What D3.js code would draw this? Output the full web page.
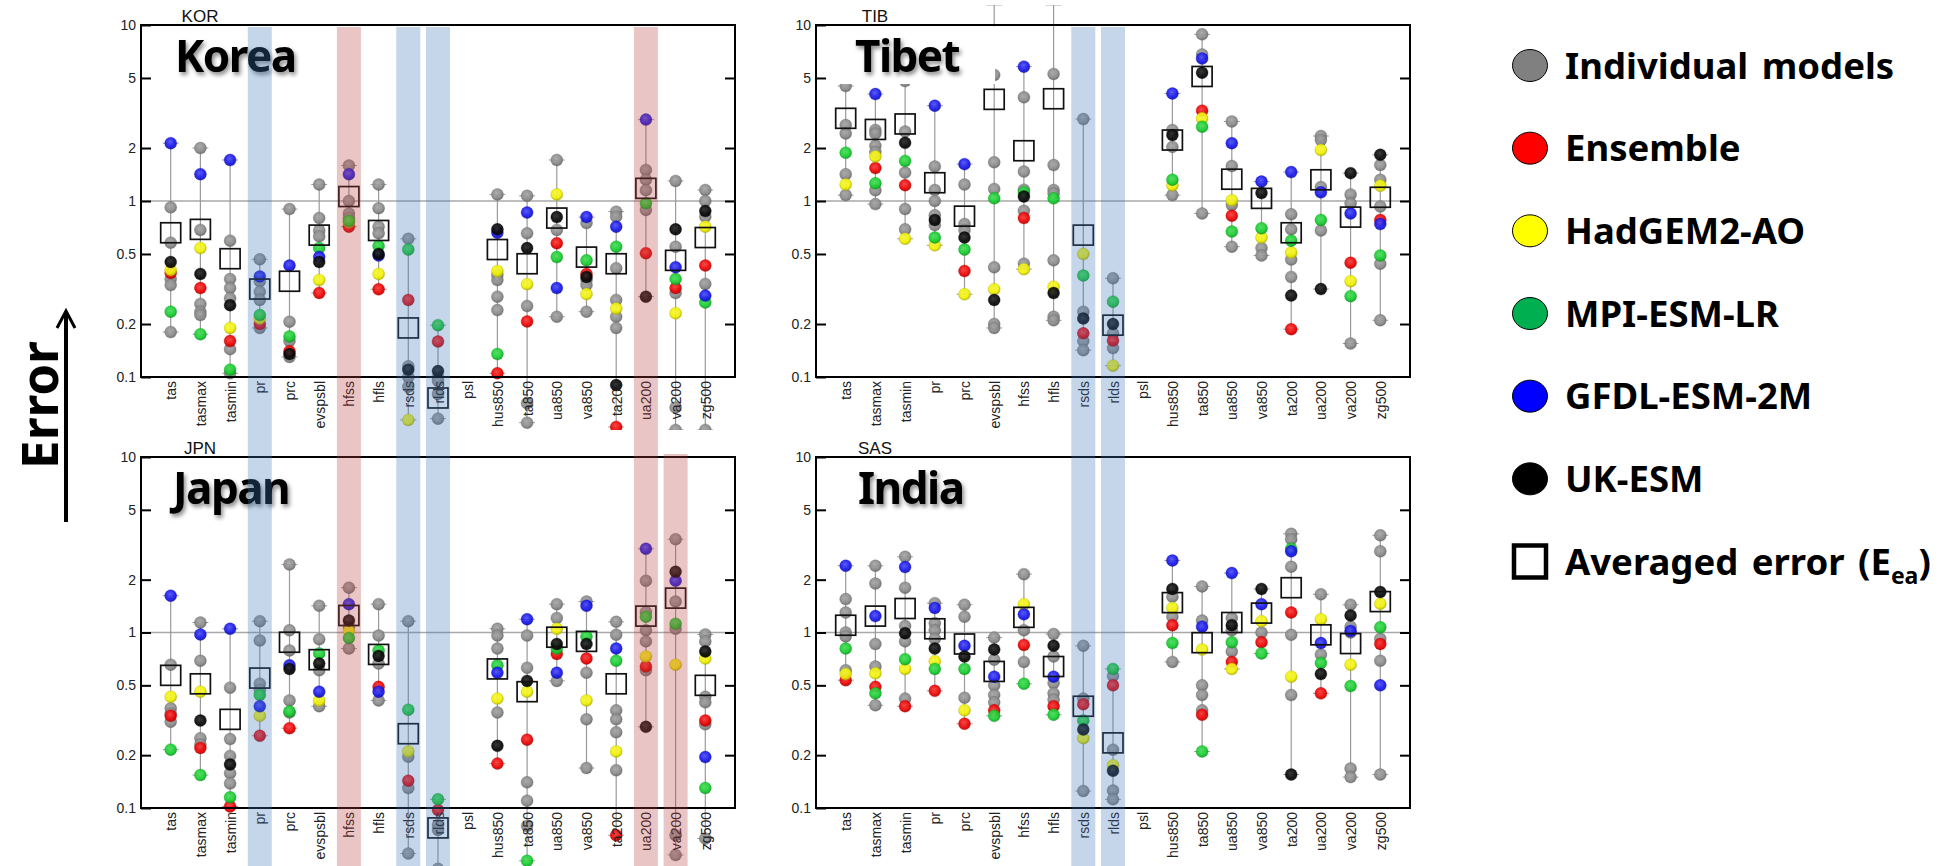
<!DOCTYPE html>
<html>
<head>
<meta charset="utf-8">
<script src="https://cdn.jsdelivr.net/npm/d3@7"></script>
<style>
  body { margin: 0; background: #fff; }
  svg { display: block; }
</style>
</head>
<body>
<svg id="chart" width="1950" height="866"></svg>
<script>
// variables on the x axis
const variables = ["tas", "tasmax", "tasmin", "pr", "prc", "evspsbl", "hfss", "hfls", "rsds", "rlds",
                   "psl", "hus850", "ta850", "ua850", "va850", "ta200", "ua200", "va200", "zg500"];

// ---- Korea (KOR) ----
const korIndividual = [
  [0.92, 0.58, 0.36, 0.333, 0.18], [2.0, 0.685, 0.26, 0.235, 0.225], [0.595, 0.36, 0.32, 0.28, 0.144, 0.105],
  [0.466, 0.35, 0.305, 0.274, 0.19], [0.90, 0.206, 0.16, 0.13], [1.24, 0.80, 0.68, 0.63],
  [1.59, 1.0, 0.85, 0.8], [1.24, 0.91, 0.715, 0.655], [0.61, 0.115, 0.10, 0.088],
  [0.1, 0.095, 0.08, 0.058], [], [1.09, 0.38, 0.356, 0.286, 0.24],
  [1.07, 0.655, 0.253, 0.071, 0.055], [1.71, 0.685, 0.22], [0.75, 0.356, 0.333, 0.235],
  [0.87, 0.815, 0.415, 0.274, 0.22, 0.19], [1.5, 1.32, 1.15, 0.89], [1.30, 0.55, 0.30, 0.067, 0.05],
  [1.155, 1.0, 0.815, 0.338, 0.05]
];
const korEnsemble = [0.39, 0.32, 0.16, 0.2, 0.14, 0.30, 0.715, 0.315, 0.274, 0.159, null, 0.105, 0.207, 0.575, 0.385, 0.052, 0.505, 0.32, 0.43];
const korHadgem   = [0.405, 0.54, 0.19, 0.215, null, 0.356, 0.76, 0.385, 0.057, null, null, 0.40, 0.337, 1.09, 0.296, 0.245, null, 0.23, 0.715];
const korMpi      = [0.235, 0.175, 0.11, 0.225, 0.17, 0.54, 0.77, 0.555, 0.53, 0.197, null, 0.135, null, 0.48, 0.46, 0.55, 0.97, 0.36, 0.265];
const korGfdl     = [2.13, 1.42, 1.71, 0.372, 0.43, 0.48, 1.42, 0.49, null, null, null, 0.66, 0.86, 0.32, 0.81, 0.715, 2.9, 0.42, 0.29];
const korUkesm    = [0.45, 0.385, 0.256, null, 0.135, 0.45, null, 0.50, 0.11, 0.108, null, 0.69, 0.54, 0.81, 0.37, 0.090, 0.286, 0.69, 0.877];
const korEea      = [0.66, 0.69, 0.47, 0.316, 0.35, 0.64, 1.06, 0.68, 0.19, 0.076, null, 0.53, 0.44, 0.80, 0.48, 0.44, 1.18, 0.46, 0.62];

// ---- Tibet (TIB) ----
const tibIndividual = [
  [4.5, 2.7, 2.42, 1.42, 1.08], [2.53, 2.42, 2.06, 1.9, 1.15, 0.96], [4.8, 2.48, 1.45, 0.90, 0.69],
  [1.57, 1.155, 1.0, 0.83, 0.73], [1.24, 0.74, 0.685], [13, 5.2, 1.66, 1.17, 0.42, 0.2, 0.19],
  [3.88, 1.47, 1.16, 0.88, 0.44], [13, 5.27, 1.6, 1.155, 1.105, 0.46, 0.22, 0.21], [2.92, 0.235, 0.16, 0.142],
  [0.364, 0.177, 0.146], [], [2.53, 2.03, 1.08],
  [8.85, 6.8, 0.85], [2.83, 1.58, 0.95, 0.55], [0.54, 0.49],
  [0.84, 0.69, 0.465, 0.37], [2.34, 2.22, 1.2, 0.68], [1.09, 0.97, 0.155],
  [1.6, 1.32, 0.93, 0.44, 0.21]
];
const tibEnsemble = [null, 1.54, 1.23, null, 0.40, null, 0.80, null, 0.177, 0.161, null, null, 3.26, 0.825, null, 0.187, null, 0.446, 0.78];
const tibHadgem   = [1.24, 1.79, 0.61, 0.56, 0.295, 0.315, 0.41, 0.326, 0.5, 0.116, null, 1.23, 2.95, 1.01, 0.62, 0.51, 1.95, 0.35, 1.22];
const tibMpi      = [1.88, 1.26, 1.69, 0.62, 0.53, 1.035, 1.12, 1.035, 0.377, 0.268, null, 1.32, 2.64, 0.67, 0.70, 0.595, 0.78, 0.288, 0.49];
const tibGfdl     = [null, 4.05, null, 3.48, 1.62, null, 5.8, null, null, null, null, 4.08, 6.45, 2.13, 1.29, 1.46, 1.12, 0.85, 0.74];
const tibUkesm    = [null, null, 2.14, 0.78, 0.62, 0.274, 1.06, 0.30, 0.215, 0.2, null, 2.37, 5.36, null, 1.11, 0.29, 0.316, 1.44, 1.83];
const tibEea      = [2.95, 2.55, 2.74, 1.27, 0.82, 3.78, 1.93, 3.81, 0.64, 0.197, null, 2.22, 5.1, 1.33, 1.035, 0.66, 1.32, 0.81, 1.05];

// ---- Japan (JPN) ----
const jpnIndividual = [
  [0.655, 0.37, 0.345, 0.31], [1.14, 0.69, 0.25, 0.23], [0.485, 0.247, 0.198, 0.158, 0.138],
  [1.16, 0.9, 0.51, 0.47], [2.44, 1.03, 0.79, 0.41, 0.35], [1.42, 0.915, 0.61, 0.38],
  [1.8, 1.08, 0.81], [1.45, 0.96, 0.665, 0.41], [1.16, 0.196, 0.13, 0.055],
  [0.08, 0.075, 0.045], [], [1.05, 0.96, 0.81, 0.35],
  [0.96, 0.63, 0.14, 0.11, 0.079], [1.45, 1.21, 0.53], [1.5, 0.59, 0.32, 0.169],
  [1.15, 0.97, 0.36, 0.32, 0.27, 0.164], [1.97, 1.31, 1.03, 0.89, 0.61], [3.4, 1.5, 1.05, 0.07, 0.054],
  [0.975, 0.89, 0.43, 0.40, 0.30, 0.067]
];
const jpnEnsemble = [0.335, 0.22, 0.102, 0.258, 0.285, null, null, 0.49, 0.143, 0.0975, null, 0.179, 0.245, 0.755, 0.71, 0.07, 0.64, null, 0.315];
const jpnHadgem   = [0.43, 0.46, null, 0.335, null, 0.41, 1.02, null, 0.21, null, null, 0.42, 0.46, 1.05, 0.41, 0.21, 0.73, 0.655, 0.71];
const jpnMpi      = [0.215, 0.154, 0.115, 0.44, 0.355, 0.76, 0.93, 0.79, 0.363, 0.112, null, 0.65, 0.05, 0.81, 0.95, 0.69, 1.23, 1.12, 0.13];
const jpnGfdl     = [1.62, 0.975, 1.05, 0.38, 0.65, 0.46, 1.45, 0.46, null, null, null, 0.59, 1.19, 0.59, 1.42, 0.81, 3.0, 1.97, 0.195];
const jpnUkesm    = [null, 0.315, 0.177, null, 0.62, 0.665, 1.17, 0.735, null, null, null, 0.226, 0.53, 0.86, 0.86, null, 0.29, 2.22, 0.78];
const jpnEea      = [0.57, 0.51, 0.32, 0.55, 0.88, 0.70, 1.25, 0.75, 0.265, 0.077, null, 0.62, 0.46, 0.94, 0.89, 0.51, 1.24, 1.57, 0.50];

// ---- India (SAS) ----
const sasIndividual = [
  [1.55, 1.3, 1.0, 0.95, 0.61], [2.4, 1.9, 0.86, 0.64, 0.385], [2.7, 1.8, 1.09, 0.89, 0.42],
  [1.47, 1.13, 1.03, 0.92], [1.44, 1.23, 0.425], [0.935, 0.70, 0.5, 0.44, 0.40],
  [2.15, 1.03, 0.68], [0.98, 0.73, 0.515, 0.45, 0.415], [0.84, 0.42, 0.125],
  [0.565, 0.215, 0.126, 0.112], [], [1.6, 1.23, 0.68],
  [1.83, 1.17, 0.5, 0.44, 0.36], [1.21, 1.03, 0.78], [1.0],
  [3.65, 3.4, 2.37, 0.97, 0.44], [1.65, 0.75], [1.44, 1.08, 1.0, 0.168, 0.15],
  [3.58, 2.9, 0.92, 0.69, 0.155]
];
const sasEnsemble = [0.535, 0.49, 0.38, 0.465, 0.302, 0.36, 0.85, 0.38, 0.39, 0.5, null, 1.1, 0.34, 0.68, 0.88, 1.3, 0.45, null, 0.86];
const sasHadgem   = [0.58, 0.585, 0.62, 0.685, 0.36, null, 1.45, null, 0.25, 0.175, null, 1.38, 0.8, 0.62, 1.16, 0.56, 1.19, 0.655, 1.46];
const sasMpi      = [0.81, 0.45, 0.705, 0.62, 0.62, 0.335, 0.51, 0.34, 0.315, 0.62, null, 0.87, 0.21, 0.88, 0.76, 3.0, 0.67, 0.495, 1.07];
const sasGfdl     = [2.4, 1.24, 2.36, 1.38, 0.84, 0.56, 1.27, 0.56, null, null, null, 2.57, 1.08, 2.18, 1.45, 2.9, 0.87, 1.02, 0.5];
const sasUkesm    = [null, null, 0.99, 0.81, 0.73, 0.8, null, 0.84, 0.28, 0.163, null, 1.77, null, 1.1, 1.77, 0.155, 0.58, 1.25, 1.7];
const sasEea      = [1.1, 1.24, 1.37, 1.05, 0.86, 0.6, 1.22, 0.64, 0.38, 0.235, null, 1.48, 0.875, 1.14, 1.29, 1.8, 0.97, 0.865, 1.5];

// y axis tick values and legend entries
const tickValues = [0.1, 0.2, 0.5, 1, 2, 5, 10];
const legendLabels = ["Individual models", "Ensemble", "HadGEM2-AO", "MPI-ESM-LR", "GFDL-ESM-2M", "UK-ESM"];
const legendColors = ["#808080", "#ff0000", "#ffff00", "#00b050", "#0000ff", "#000000"];

// shaded variables: [variable, colour]
const bandsLeft = [["pr", "b"], ["hfss", "r"], ["rsds", "b"], ["rlds", "b"], ["ua200", "r"]];
const bandsJapanOnly = [["va200", "r"]];
const bandsRight = [["rsds", "b"], ["rlds", "b"]];

var svg = d3.select("#chart");
var defs = svg.append("defs");

var dotColors = {gray: "#8a8a8a", ens: "#f00000", had: "#f2f200", mpi: "#14cf2c", gfdl: "#1616ee", uk: "#050505"};

Object.keys(dotColors).forEach(function(k) {
  var c = d3.color(dotColors[k]);
  var g = defs.append("radialGradient").attr("id", "grad-" + k)
    .attr("cx", "45%").attr("cy", "40%").attr("r", "60%");
  g.append("stop").attr("offset", "0%").attr("stop-color", d3.interpolateRgb(c, "#fff")(k == "uk" ? 0.15 : 0.25));
  g.append("stop").attr("offset", "65%").attr("stop-color", c.formatHex());
  g.append("stop").attr("offset", "100%").attr("stop-color", c.darker(0.8).formatHex());
});

var shadow = defs.append("filter").attr("id", "shadow")
  .attr("x", "-10%").attr("y", "-20%").attr("width", "130%").attr("height", "150%");
shadow.append("feDropShadow").attr("dx", 2).attr("dy", 3).attr("stdDeviation", 2.2)
  .attr("flood-color", "#000").attr("flood-opacity", 0.45);

const panels = [
  {code: "KOR", name: "Korea", left: 141, top: 25, bottom: 377, lineTop: 5, clipBottom: 430, nameDx: 34,
   indiv: korIndividual, ens: korEnsemble, had: korHadgem, mpi: korMpi, gfdl: korGfdl, uk: korUkesm, eea: korEea},
  {code: "TIB", name: "Tibet", left: 816, top: 25, bottom: 377, lineTop: 5, clipBottom: 430, nameDx: 39,
   indiv: tibIndividual, ens: tibEnsemble, had: tibHadgem, mpi: tibMpi, gfdl: tibGfdl, uk: tibUkesm, eea: tibEea},
  {code: "JPN", name: "Japan", left: 141, top: 457, bottom: 808, lineTop: 440, clipBottom: 866, nameDx: 32,
   indiv: jpnIndividual, ens: jpnEnsemble, had: jpnHadgem, mpi: jpnMpi, gfdl: jpnGfdl, uk: jpnUkesm, eea: jpnEea},
  {code: "SAS", name: "India", left: 816, top: 457, bottom: 808, lineTop: 440, clipBottom: 866, nameDx: 42,
   indiv: sasIndividual, ens: sasEnsemble, had: sasHadgem, mpi: sasMpi, gfdl: sasGfdl, uk: sasUkesm, eea: sasEea}
];
const panelWidth = 594;

function drawPanel(p, i) {
  var right = p.left + panelWidth;
  var x = d3.scalePoint().domain(variables).range([p.left, right]).padding(1);
  var y = d3.scaleLog().domain([0.1, 10]).range([p.bottom, p.top]);
  p.x = x;

  defs.append("clipPath").attr("id", "clipL" + i).append("rect")
    .attr("x", p.left).attr("y", p.lineTop).attr("width", panelWidth).attr("height", p.clipBottom - p.lineTop);
  defs.append("clipPath").attr("id", "clipD" + i).append("rect")
    .attr("x", p.left).attr("y", p.top).attr("width", panelWidth).attr("height", p.clipBottom - p.top);

  var g = svg.append("g").attr("class", "panel-" + p.code);

  // reference line at 1
  g.append("line")
    .attr("x1", p.left).attr("x2", right)
    .attr("y1", y(1)).attr("y2", y(1))
    .attr("stroke", "#a8a8a8").attr("stroke-width", 1.6);

  // collect all values for each variable
  var cols = variables.map(function(v, j) {
    var dots = p.indiv[j].map(function(d) { return {v: d, k: "gray"}; });
    ["ens", "had", "mpi", "gfdl", "uk"].forEach(function(k) {
      if (p[k][j] != null) dots.push({v: p[k][j], k: k});
    });
    return {name: v, dots: dots, eea: p.eea[j]};
  }).filter(function(c) { return c.dots.length > 0; });

  var lines = g.append("g").attr("clip-path", "url(#clipL" + i + ")");
  cols.forEach(function(c) {
    var ext = d3.extent(c.dots, function(d) { return d.v; });
    var cx = x(c.name);
    lines.append("line")
      .attr("x1", cx).attr("x2", cx)
      .attr("y1", y(ext[0])).attr("y2", y(ext[1]))
      .attr("stroke", "#9a9a9a").attr("stroke-width", 1.2);
    ext.forEach(function(e) {
      lines.append("line")
        .attr("x1", cx - 8).attr("x2", cx + 8)
        .attr("y1", y(e)).attr("y2", y(e))
        .attr("stroke", "#a0a0a0").attr("stroke-width", 1);
    });
  });

  var dots = g.append("g").attr("clip-path", "url(#clipD" + i + ")");
  cols.forEach(function(c) {
    dots.selectAll(null)
      .data(c.dots)
      .join("circle")
        .attr("cx", x(c.name))
        .attr("cy", d => y(d.v))
        .attr("r", 6)
        .attr("fill", d => "url(#grad-" + d.k + ")")
        .attr("fill-opacity", 0.92)
        .attr("stroke", d => d3.color(dotColors[d.k]).darker(1).formatHex())
        .attr("stroke-opacity", 0.5)
        .attr("stroke-width", 0.6);
    if (c.eea != null) {
      dots.append("rect")
        .attr("x", x(c.name) - 10).attr("y", y(c.eea) - 10)
        .attr("width", 20).attr("height", 20)
        .attr("fill", "none").attr("stroke", "#111").attr("stroke-width", 1.7);
    }
  });

  // axes box and ticks
  var yl = d3.axisLeft(y).tickValues(tickValues).tickSize(-10).tickPadding(5).tickFormat(d3.format(""));
  var yr = d3.axisRight(y).tickValues([0.2, 0.5, 1, 2, 5]).tickSize(-10).tickFormat("");
  var ga = g.append("g").attr("transform", "translate(" + p.left + ",0)").call(yl);
  var gb = g.append("g").attr("transform", "translate(" + right + ",0)").call(yr);
  [ga, gb].forEach(function(a) {
    a.select(".domain").remove();
    a.selectAll("line").attr("stroke", "#000").attr("stroke-width", 2);
  });
  ga.selectAll("text").style("font", "14px 'Liberation Sans', Arial, sans-serif").attr("fill", "#222");

  g.append("rect")
    .attr("x", p.left).attr("y", p.top)
    .attr("width", panelWidth).attr("height", p.bottom - p.top)
    .attr("fill", "none").attr("stroke", "#000").attr("stroke-width", 2);

  // x labels
  var gx = g.append("g").attr("transform", "translate(0," + p.bottom + ")")
    .call(d3.axisBottom(x).tickSize(0));
  gx.select(".domain").remove();
  gx.selectAll("text")
    .attr("transform", "rotate(-90)")
    .attr("x", -4).attr("y", 0).attr("dy", "0.36em")
    .style("text-anchor", "end")
    .style("font", "14px 'Liberation Sans', Arial, sans-serif")
    .attr("fill", "#222");

  // small code title
  g.append("text")
    .attr("x", p.left + 59).attr("y", p.top - 3)
    .attr("text-anchor", "middle")
    .style("font", "17px 'Liberation Sans', Arial, sans-serif")
    .attr("fill", "#111")
    .text(p.code);

  // region name on a white patch
  g.append("rect")
    .attr("x", p.left + 14).attr("y", p.top + 1.5)
    .attr("width", 165).attr("height", 57.5)
    .attr("fill", "#fff");
  g.append("text")
    .attr("x", p.left + p.nameDx).attr("y", p.top + 47)
    .style("font", "bold 44px 'Noto Sans', 'Open Sans', sans-serif")
    .style("letter-spacing", "-1.5px")
    .attr("fill", "#000")
    .attr("filter", "url(#shadow)")
    .text(p.name);
}

panels.forEach(drawPanel);

// translucent highlight bands on top
var bandFill = {b: "rgb(62,115,185)", r: "rgb(185,62,62)"};
function drawBands(list, xs, y0, y1) {
  svg.append("g").selectAll("rect")
    .data(list)
    .join("rect")
      .attr("x", d => xs(d[0]) - 12)
      .attr("y", y0)
      .attr("width", 24)
      .attr("height", y1 - y0)
      .attr("fill", d => bandFill[d[1]])
      .attr("fill-opacity", 0.3);
}
drawBands(bandsLeft, panels[0].x, 27, 866);
drawBands(bandsJapanOnly, panels[2].x, 454, 866);
drawBands(bandsRight, panels[1].x, 27, 866);

// legend
var legend = svg.append("g").attr("class", "legend");
var legendY = d3.scalePoint().domain(d3.range(7)).range([65.5, 561.5]);
var legendX = 1530;
legend.selectAll("ellipse")
  .data(legendLabels)
  .join("ellipse")
    .attr("cx", legendX).attr("cy", (d, i) => legendY(i))
    .attr("rx", 17.5).attr("ry", 16)
    .attr("fill", (d, i) => legendColors[i])
    .attr("stroke", "#000").attr("stroke-width", 1);
legend.append("rect")
  .attr("x", legendX - 16).attr("y", legendY(6) - 16)
  .attr("width", 32).attr("height", 32)
  .attr("fill", "none").attr("stroke", "#000").attr("stroke-width", 4.5);
legend.selectAll("text.lab")
  .data(legendLabels)
  .join("text")
    .attr("class", "lab")
    .attr("x", 1565).attr("y", (d, i) => legendY(i) + 13)
    .style("font", "bold 36.5px 'Noto Sans', sans-serif")
    .style("word-spacing", "4px")
    .text(d => d);
var avg = legend.append("text")
  .attr("x", 1565).attr("y", legendY(6) + 13)
  .style("font", "bold 36.5px 'Noto Sans', sans-serif")
  .style("word-spacing", "4px");
avg.append("tspan").text("Averaged error (E");
avg.append("tspan").attr("dy", 9).style("font-size", "23px").text("ea");
avg.append("tspan").attr("dy", -9).text(")");

// "Error" with arrow
svg.append("text")
  .attr("transform", "translate(58,405) rotate(-90)")
  .attr("text-anchor", "middle")
  .style("font", "bold 51px 'Noto Sans', sans-serif")
  .text("Error");
svg.append("path")
  .attr("d", d3.line()([[66, 522], [66, 313]]))
  .attr("stroke", "#000").attr("stroke-width", 4).attr("fill", "none");
svg.append("path")
  .attr("d", d3.line()([[57, 328], [66, 311], [75, 328]]))
  .attr("stroke", "#000").attr("stroke-width", 3).attr("fill", "none");
</script>
</body>
</html>
